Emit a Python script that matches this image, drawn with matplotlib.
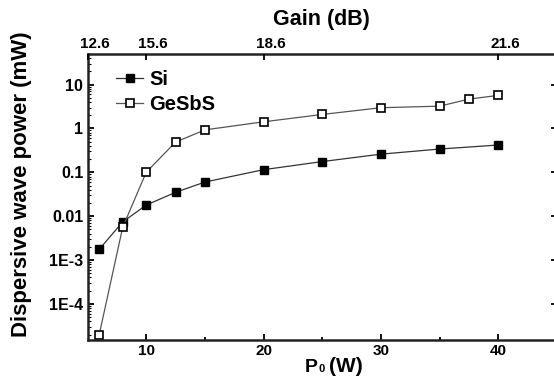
import numpy as np
import matplotlib
matplotlib.use("Agg")
import matplotlib.pyplot as plt
import matplotlib.transforms as mtransforms
from matplotlib.ticker import FixedLocator, LogLocator, NullFormatter

# Data
p0_si = [6, 8, 10, 12.5, 15, 20, 25, 30, 35, 40]
si_power = [1.76e-3, 7.4e-3, 0.0179, 0.035, 0.060, 0.115, 0.176, 0.26, 0.34, 0.42]
p0_ge = [6, 8, 10, 12.5, 15, 20, 25, 30, 35, 37.5, 40]
ge_power = [2.0e-5, 5.6e-3, 0.10, 0.49, 0.93, 1.42, 2.09, 2.98, 3.23, 4.68, 5.7]

x_ticks = [10, 20, 30, 40]
x_minor = [15, 25, 35]
y_ticks = [1e-4, 1e-3, 1e-2, 1e-1, 1, 10]
y_labels = ["1E-4", "1E-3", "0.01", "0.1", "1", "10"]
gain_pos = [5, 10, 20, 40]
gain_labels = ["12.6", "15.6", "18.6", "21.6"]

plt.rcParams['font.family'] = ['Liberation Sans', 'DejaVu Sans']
plt.rcParams['font.weight'] = 'bold'

fig = plt.figure(figsize=(5.54, 3.77), dpi=100)
ax = fig.add_axes([87.5/554, 1-340/377, (557-87.5)/554, (340-54)/377])

ax.plot(p0_si, si_power, color='#333333', lw=0.9, marker='s', ms=6,
        mfc='black', mec='black', label='Si')
ax.plot(p0_ge, ge_power, color='#555555', lw=0.9, marker='s', ms=5.5,
        mfc='white', mec='black', mew=1.2, label='GeSbS')

ax.set_yscale('log')
ax.set_xlim(5, 45)
ax.set_ylim(1.5e-5, 50)

ax.xaxis.set_major_locator(FixedLocator(x_ticks))
ax.xaxis.set_minor_locator(FixedLocator(x_minor))
ax.yaxis.set_major_locator(FixedLocator(y_ticks))
ax.set_yticklabels(y_labels)
ax.yaxis.set_minor_locator(LogLocator(base=10, subs=np.arange(2, 10)))
ax.yaxis.set_minor_formatter(NullFormatter())

ax.tick_params(axis='both', which='major', direction='in', length=4, width=1.3,
               right=True, pad=3)
ax.tick_params(axis='y', which='major', labelsize=11.5)
ax.tick_params(axis='x', which='major', labelsize=11)
ax.tick_params(axis='both', which='minor', direction='in', length=2, width=0.8,
               right=False)
ax.tick_params(axis='x', which='minor', length=2.5, width=1.3)
for lab in ax.get_xticklabels() + ax.get_yticklabels():
    lab.set_fontweight('bold')

for s in ['left', 'bottom', 'top', 'right']:
    ax.spines[s].set_linewidth(1.8)
    ax.spines[s].set_color('#222222')

ax2 = ax.twiny()
ax2.set_xlim(ax.get_xlim())
ax2.xaxis.set_major_locator(FixedLocator(gain_pos))
ax2.set_xticklabels(gain_labels, fontweight='bold')
ax2.tick_params(axis='x', direction='in', length=4, width=1.3, labelsize=11, pad=2)
offset = mtransforms.ScaledTranslation(7/100, 0, fig.dpi_scale_trans)
for lab in ax2.get_xticklabels():
    lab.set_transform(lab.get_transform() + offset)
for s in ax2.spines.values():
    s.set_visible(False)

fig.text(321/554, 1-20/377, 'Gain (dB)', ha='center', va='center',
         fontsize=15.5, fontweight='bold')
# x label "P0 (W)" with small subscript zero
yb = 1 - 372/377
fig.text(305/554, yb, 'P', ha='left', va='baseline', fontsize=14, fontweight='bold')
fig.text(318.5/554, yb, '0', ha='left', va='baseline', fontsize=8, fontweight='bold')
fig.text(329.5/554, yb, '(W)', ha='left', va='baseline', fontsize=15, fontweight='bold')
fig.text(22/554, 1-184/377, 'Dispersive wave power (mW)', ha='center', va='center',
         rotation=90, fontsize=16, fontweight='bold')

leg = ax.legend(loc='upper left', bbox_to_anchor=(0.035, 0.985), frameon=False,
                fontsize=14.5, handlelength=1.35, handletextpad=0.3, labelspacing=0.3,
                borderaxespad=0.2)
for t in leg.get_texts():
    t.set_fontweight('bold')

fig.savefig('out.png', dpi=100)
